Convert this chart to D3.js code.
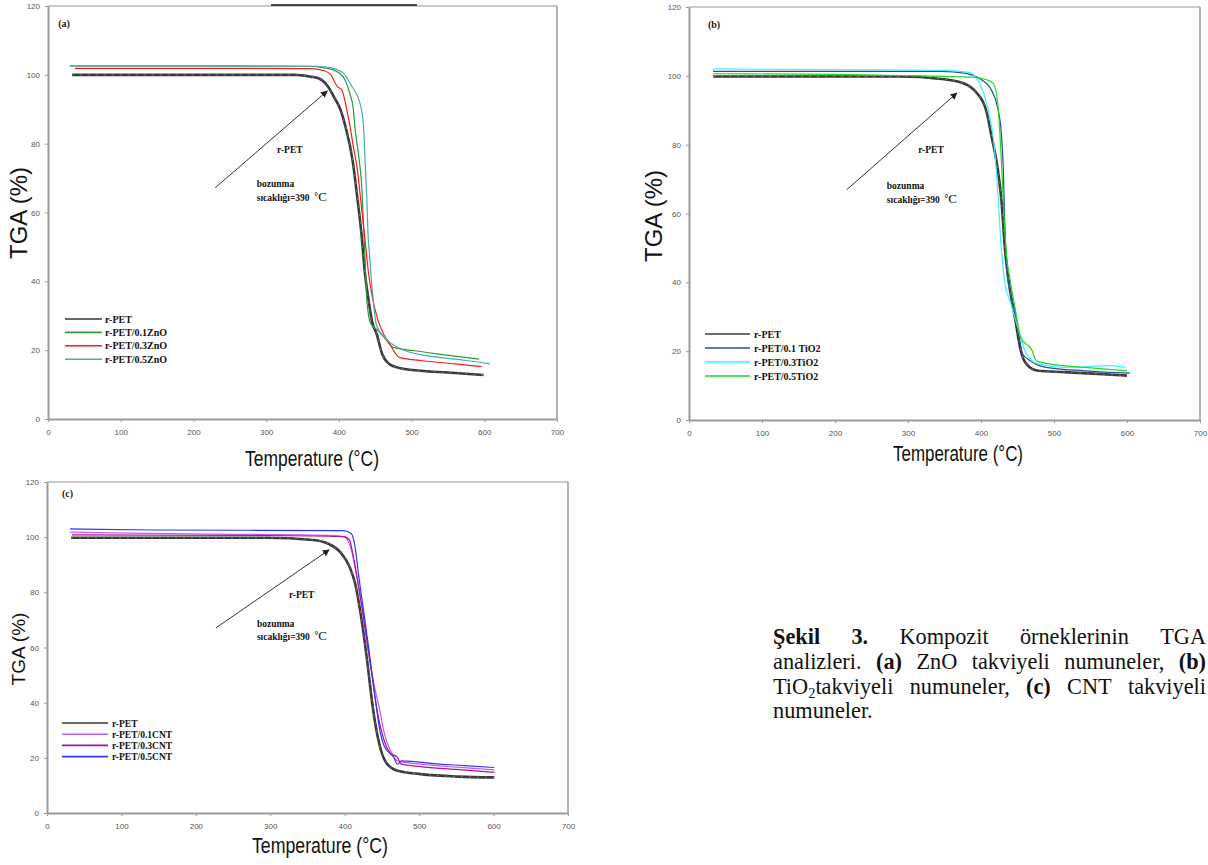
<!DOCTYPE html>
<html><head><meta charset="utf-8">
<script src="https://cdn.jsdelivr.net/npm/d3@7"></script>
<style>body{margin:0;background:#fff} svg{display:block}</style>
</head><body>
<svg id="c" width="1208" height="865"></svg>
<script>
// ---------- DATA ----------
const xTicks = [0,100,200,300,400,500,600,700];
const yTicks = [0,20,40,60,80,100,120];

const legendA = ["r-PET","r-PET/0.1ZnO","r-PET/0.3ZnO","r-PET/0.5ZnO"];
const legendB = ["r-PET","r-PET/0.1 TiO2","r-PET/0.3TiO2","r-PET/0.5TiO2"];
const legendC = ["r-PET","r-PET/0.1CNT","r-PET/0.3CNT","r-PET/0.5CNT"];

// Panel (a) – ZnO  [temperature °C, TGA %]
const a_rPET = [[33,100],[200,100],[300,100],[340,100],[360,99.5],[372,99],[385,96.6],[394,93.3],[402,90],[409,85],[419,75],[425,65],[431,54],[436,42],[441,34.4],[446,28],[452,24.7],[459.5,18.9],[468,16.2],[480,15],[512,14],[550,13.5],[599,12.8]];
const a_ZnO01 = [[30,102.6],[200,102.6],[360,102.5],[380,102],[397,101],[408.5,98.5],[415,94.7],[420,89.8],[422,85],[428,75.3],[431.5,67.5],[434,56],[436.5,44],[438.5,34.4],[444,27.6],[454,25.7],[465,23],[475,20.8],[501.6,19.9],[540,18.8],[593,17.4]];
const a_ZnO03 = [[37,101.9],[200,101.9],[360,101.8],[380,101.2],[389,100],[398,96.6],[404,95.6],[411,89.8],[415.4,85],[420,79],[425.5,72.4],[429,65.7],[436,52],[441,42],[446,35.4],[454,28.6],[462,24.5],[470,21.8],[483,17.9],[512,17],[560,16],[596,15.2]];
const a_ZnO05 = [[30,102.6],[200,102.6],[370,102.5],[390,102],[406,100.5],[418,96.6],[429,91.8],[434,85],[436,75.3],[438.5,63.7],[440.5,52],[441.5,49.4],[446,37.3],[452,27.1],[465,23.3],[491,19.9],[538,17.9],[575,17],[608,16]];

// Panel (b) – TiO2
const b_rPET = [[33,99.8],[200,99.8],[287,99.8],[346,99.1],[377.5,97.7],[393,95.3],[407,90],[414.6,82.2],[422.6,73.4],[428,63.8],[433,49.2],[438.5,39.5],[446.5,29.8],[454.4,20.2],[462,16.3],[478,14.3],[515,13.9],[560,13.4],[600,12.9]];
const b_TiO01 = [[33,101.3],[200,101.3],[346,101.3],[377.5,100.8],[399,99.1],[414.6,95.7],[422.6,90.9],[428,83],[430.5,73.4],[433,54],[436,42.4],[441,36.6],[449,28.9],[457,19.2],[467.6,17.2],[489,15.3],[542,14.3],[604,13.6]];
const b_TiO03 = [[33,102],[200,101.8],[346,101.6],[383,101],[396,98.6],[404,94.8],[412,88],[417.3,81.2],[422.6,67.6],[428,49.2],[433,39.5],[441,33.7],[451.7,26],[462,19.2],[478,16.3],[515,15.3],[579,15.8],[597.6,15.3]];
const b_TiO05 = [[33,100.6],[200,100.4],[292.7,100.1],[388,99.6],[409,98.8],[417,97.7],[422.6,92.8],[426,83],[430.5,63.8],[434.8,48.3],[440,40.5],[446.5,32.8],[454.4,24],[470,20.2],[475.6,17.2],[494,16.3],[542,15.3],[600,14.3]];

// Panel (c) – CNT
const c_rPET = [[32.4,99.8],[200,99.8],[296,99.8],[357.7,99],[378,97.6],[394,94.6],[406.6,89.2],[414,83.2],[422,71.2],[430,55.5],[437.5,38.7],[445,26.7],[455.5,18.3],[471,15.3],[502,14.1],[553,13.2],[601,12.9]];
const c_CNT01 = [[31,101.8],[193,101.2],[388.6,100.6],[401,99.8],[409,95.2],[417,84.4],[424.6,72.4],[432,57.9],[440,45.9],[447.8,36.3],[453,29.1],[460.6,23.1],[471,18.9],[502,17.7],[550,16.6],[601,15.6]];
const c_CNT03 = [[33.5,100.8],[296,100.6],[399,100.2],[406.6,98.8],[411.7,92.8],[419.5,80.8],[427,67.5],[435,53.1],[442.6,38.7],[450,29.1],[460.6,21.9],[471,20.1],[476,17.7],[502,16.8],[550,15.8],[601,14.7]];
const c_CNT05 = [[31,103],[141.5,102.6],[399,102.4],[409,101.2],[414,96.4],[418.4,86.8],[424.6,74.8],[432,60.3],[440,43.5],[447.8,29.1],[453,24.3],[466,20.1],[471,17.7],[476,18.9],[527.5,17.7],[560,17.2],[601,16.5]];

// annotation values (data coordinates)
const arrowA = [[230,67.2],[384,95.3]];
const arrowB = [[216,66.9],[367,95]];
const arrowC = [[227,67.1],[379,95.4]];

const captionLines = [
  [[["Şekil","b"]],[["3.","b"]],[["Kompozit",""]],[["örneklerinin",""]],[["TGA",""]]],
  [[["analizleri.",""]],[["(a)","b"]],[["ZnO",""]],[["takviyeli",""]],[["numuneler,",""]],[["(b)","b"]]],
  [[["TiO",""],["2","sub"],["takviyeli",""]],[["numuneler,",""]],[["(c)","b"]],[["CNT",""]],[["takviyeli",""]]],
  [[["numuneler.",""]]]
];

// ---------- DRAW ----------
const svg = d3.select("#c");
const serif = "'Liberation Serif','Times New Roman',serif";
const sans = "'Liberation Sans',Arial,sans-serif";

svg.append("defs").append("marker")
  .attr("id","arr").attr("viewBox","0 0 10 10").attr("refX",9).attr("refY",5)
  .attr("markerWidth",7).attr("markerHeight",7).attr("orient","auto")
  .append("path").attr("d","M0,0L10,5L0,10z").attr("fill","#222");

const panels = [
  {xr:[48,557], yr:[419,6], letter:"(a)",
   series:[a_rPET,a_ZnO01,a_ZnO03,a_ZnO05], legend:legendA,
   colors:["#3a3a3a","#2a9a3a","#ff1a1a","#4aa9ad"],
   leg:{x0:65,x1:102,tx:105,y0:319,dy:13.4,fs:10},
   tga:{x:18,y:213,fs:24}, tt:{x:245,y:466,len:134,fs:22},
   arrow:arrowA, txt:{rp:[315,77.3],bz:[287,67.4],sc:[287,63.2]}, lt:[14,114]},
  {xr:[689,1200], yr:[420,7], letter:"(b)",
   series:[b_rPET,b_TiO01,b_TiO03,b_TiO05], legend:legendB,
   colors:["#3a3a3a","#1f4f9a","#3ff0ff","#22d822"],
   leg:{x0:705,x1:750,tx:754,y0:334,dy:14,fs:10},
   tga:{x:653,y:216,fs:24}, tt:{x:893,y:461,len:130,fs:22},
   arrow:arrowB, txt:{rp:[314,77.6],bz:[271,67.1],sc:[271,63]}, lt:[26,114]},
  {xr:[47,568], yr:[813,482], letter:"(c)",
   series:[c_rPET,c_CNT01,c_CNT03,c_CNT05], legend:legendC,
   colors:["#3a3a3a","#c060f0","#b0109b","#3333f5"],
   leg:{x0:62,x1:108,tx:112,y0:723,dy:11.2,fs:9.5},
   tga:{x:18,y:649,fs:19}, tt:{x:252,y:853,len:136,fs:22},
   arrow:arrowC, txt:{rp:[325,78],bz:[282,67.4],sc:[282,62.6]}, lt:[20,114.6]}
];

panels.forEach(p => {
  const x = d3.scaleLinear().domain([0,700]).range(p.xr);
  const y = d3.scaleLinear().domain([0,120]).range(p.yr);
  const g = svg.append("g");

  // frame top/right
  g.append("line").attr("x1",p.xr[0]).attr("x2",p.xr[1]).attr("y1",p.yr[1]).attr("y2",p.yr[1])
    .attr("stroke","#b8b8b8").attr("stroke-width",1.5);
  g.append("line").attr("x1",p.xr[1]).attr("x2",p.xr[1]).attr("y1",p.yr[1]).attr("y2",p.yr[0])
    .attr("stroke","#999").attr("stroke-width",1.5);

  // axes
  const xa = g.append("g").attr("transform",`translate(0,${p.yr[0]})`)
    .call(d3.axisBottom(x).tickValues(xTicks).tickSize(3).tickSizeOuter(0));
  const ya = g.append("g").attr("transform",`translate(${p.xr[0]},0)`)
    .call(d3.axisLeft(y).tickValues(yTicks).tickSize(3).tickSizeOuter(0));
  [xa,ya].forEach(a => {
    a.select(".domain").attr("stroke","#999").attr("stroke-width",2);
    a.selectAll(".tick line").attr("stroke","#999");
    a.selectAll("text").attr("font-family",sans).attr("font-size",8).attr("fill","#555");
  });
  xa.selectAll("text").attr("dy","1.2em");
  ya.selectAll("text").attr("dx","-2px");

  // series
  const line = d3.line().x(d=>x(d[0])).y(d=>y(d[1])).curve(d3.curveMonotoneX);
  p.series.forEach((s,i) => {
    g.append("path").datum(s).attr("d",line).attr("fill","none")
      .attr("stroke",p.colors[i]).attr("stroke-width", i===0?2.6:1.2)
      .attr("stroke-linejoin","round");
  });
  // r-PET texture
  g.append("path").datum(p.series[0]).attr("d",line).attr("fill","none")
    .attr("stroke","#888").attr("stroke-width",0.8).attr("stroke-dasharray","2,6");

  // legend
  p.legend.forEach((name,i) => {
    const yy = p.leg.y0 + i*p.leg.dy;
    g.append("line").attr("x1",p.leg.x0).attr("x2",p.leg.x1).attr("y1",yy).attr("y2",yy)
      .attr("stroke",p.colors[i]).attr("stroke-width",1.6);
    g.append("text").attr("x",p.leg.tx).attr("y",yy+3.5).text(name)
      .attr("font-family",serif).attr("font-weight","bold").attr("font-size",p.leg.fs).attr("fill","#111");
  });

  // letter
  g.append("text").attr("x",x(p.lt[0])).attr("y",y(p.lt[1])).text(p.letter)
    .attr("font-family",serif).attr("font-weight","bold").attr("font-size",10).attr("fill","#222");

  // arrow
  g.append("line").attr("x1",x(p.arrow[0][0])).attr("y1",y(p.arrow[0][1]))
    .attr("x2",x(p.arrow[1][0])).attr("y2",y(p.arrow[1][1]))
    .attr("stroke","#333").attr("stroke-width",1).attr("marker-end","url(#arr)");

  // annotation text
  g.append("text").attr("x",x(p.txt.rp[0])).attr("y",y(p.txt.rp[1])).text("r-PET")
    .attr("font-family",serif).attr("font-weight","bold").attr("font-size",9.5).attr("fill","#111");
  g.append("text").attr("x",x(p.txt.bz[0])).attr("y",y(p.txt.bz[1])).text("bozunma")
    .attr("font-family",serif).attr("font-weight","bold").attr("font-size",9.5).attr("fill","#111");
  const sc = g.append("text").attr("x",x(p.txt.sc[0])).attr("y",y(p.txt.sc[1]))
    .attr("font-family",serif).attr("fill","#111");
  sc.append("tspan").text("sıcaklığı=390").attr("font-weight","bold").attr("font-size",9.5);
  sc.append("tspan").text("\u00a0\u00a0°").attr("font-weight","bold").attr("font-size",9.5).attr("dy",-1);
  sc.append("tspan").text("C").attr("font-size",13).attr("dy",1);

  // axis titles
  g.append("text").attr("transform",`translate(${p.tga.x + p.tga.fs*0.36},${p.tga.y}) rotate(-90)`)
    .attr("text-anchor","middle").text("TGA (%)")
    .attr("font-family",sans).attr("font-size",p.tga.fs).attr("fill","#111");
  g.append("text").attr("x",p.tt.x).attr("y",p.tt.y).text("Temperature (°C)")
    .attr("textLength",p.tt.len).attr("lengthAdjust","spacingAndGlyphs")
    .attr("font-family",sans).attr("font-size",p.tt.fs).attr("fill","#111");
});

// crop artefact line on top of panel (a)
svg.append("line").attr("x1",271).attr("x2",417).attr("y1",5).attr("y2",5)
  .attr("stroke","#111").attr("stroke-width",1.5);

// ---------- caption ----------
const capX0 = 773, capX1 = 1206, capY0 = 644, capDy = 24.8, capFs = 22.3;
captionLines.forEach((words,li) => {
  const yy = capY0 + li*capDy;
  const els = words.map(w => {
    const t = svg.append("text").attr("x",0).attr("y",yy)
      .attr("font-family",serif).attr("font-size",capFs).attr("fill","#111");
    let shifted = false;
    w.forEach(seg => {
      const ts = t.append("tspan").text(seg[0]);
      if (seg[1]==="b") ts.attr("font-weight","bold");
      if (seg[1]==="sub") { ts.attr("font-size",capFs*0.65).attr("dy",4); shifted = true; }
      else if (shifted) { ts.attr("dy",-4); shifted = false; }
    });
    return t;
  });
  const widths = els.map(e => e.node().getComputedTextLength());
  const total = d3.sum(widths);
  const last = li === captionLines.length-1;
  let gap = (last || els.length<2) ? capFs*0.25 : (capX1 - capX0 - total)/(els.length-1);
  let cx = capX0;
  els.forEach((e,i) => { e.attr("x",cx); cx += widths[i] + gap; });
});
</script>
</body></html>
